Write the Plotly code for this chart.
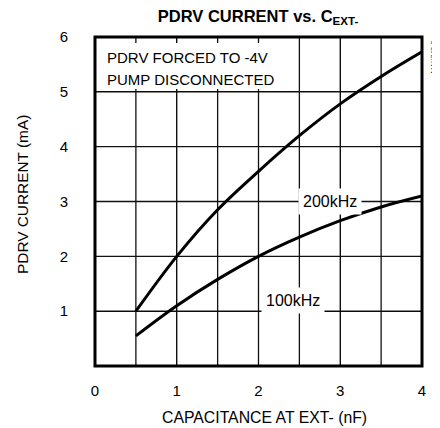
import plotly.graph_objects as go

cap_nf = [0.5, 1.0, 1.5, 2.0, 2.5, 3.0, 3.5, 4.0]
i_200k = [1.0, 2.0, 2.85, 3.55, 4.2, 4.78, 5.28, 5.73]
i_100k = [0.55, 1.1, 1.58, 2.0, 2.35, 2.65, 2.9, 3.1]

x_tickvals = [0, 1, 2, 3, 4]
x_ticktext = ["0", "1", "2", "3", "4"]
y_tickvals = [1, 2, 3, 4, 5, 6]
y_ticktext = ["1", "2", "3", "4", "5", "6"]
x_grid = [0.5, 1.0, 1.5, 2.0, 2.5, 3.0, 3.5]
y_grid = [1, 2, 3, 4, 5]
X_RANGE = [0, 4]
Y_RANGE = [0, 6]

FONT = "Liberation Sans, Arial, sans-serif"

# page body has an 8px default margin; figure is sized so the plot lands at the reference pixels
W, H = 432, 420

# grid lines drawn as a line trace through the axes' own scales
gx, gy = [], []
for v in x_grid:
    gx += [v, v, None]
    gy += [Y_RANGE[0], Y_RANGE[1], None]
for v in y_grid:
    gx += [X_RANGE[0], X_RANGE[1], None]
    gy += [v, v, None]

fig = go.Figure()
fig.add_trace(go.Scatter(x=gx, y=gy, mode="lines", line=dict(color="#111111", width=1.3),
                         showlegend=False, hoverinfo="skip", cliponaxis=True))
fig.add_trace(go.Scatter(x=cap_nf, y=i_200k, mode="lines", line=dict(color="black", width=3, shape="spline"),
                         showlegend=False, hoverinfo="skip"))
fig.add_trace(go.Scatter(x=cap_nf, y=i_100k, mode="lines", line=dict(color="black", width=3, shape="spline"),
                         showlegend=False, hoverinfo="skip"))

fig.update_layout(
    width=W, height=H,
    margin=dict(l=87, r=18, t=29, b=62, autoexpand=False),
    paper_bgcolor="white", plot_bgcolor="white",
    font=dict(family=FONT, color="black", size=12),
    hovermode=False,
    title=dict(text="<b>PDRV CURRENT vs. C<sub>EXT-</sub></b>", x=(250 / W), xanchor="center",
               y=1 - 8 / H, yanchor="middle", font=dict(size=16.5, family=FONT)),
    xaxis=dict(range=X_RANGE, tickvals=x_tickvals, ticktext=x_ticktext, showgrid=True,
               gridcolor="black", gridwidth=1,
               zeroline=False, showline=False, ticks="",
               ticklabelstandoff=14, tickfont=dict(size=15), automargin=False),
    yaxis=dict(range=Y_RANGE, tickvals=y_tickvals, ticktext=y_ticktext, showgrid=True,
               gridcolor="black", gridwidth=1,
               zeroline=False, showline=False, ticks="",
               ticklabelstandoff=26, tickfont=dict(size=15), automargin=False),
)

fig.add_shape(type="rect", xref="x", yref="y", x0=0.02, x1=2.45, y0=5.05, y1=5.89,
              fillcolor="white", line=dict(width=0), layer="above")
fig.add_shape(type="rect", xref="paper", yref="paper", x0=0, x1=1, y0=0, y1=1,
              line=dict(color="black", width=3), layer="above")

fig.add_annotation(x=0.5, y=0, xref="paper", yref="paper", xshift=6, yshift=-51.5,
                   text="CAPACITANCE AT EXT- (nF)", showarrow=False,
                   xanchor="center", yanchor="middle", font=dict(size=15.8))
fig.add_annotation(x=0, y=0.5, xref="paper", yref="paper", xshift=-73, yshift=6.5,
                   text="PDRV CURRENT (mA)", showarrow=False, textangle=-90,
                   xanchor="center", yanchor="middle", font=dict(size=15.4))

fig.add_annotation(x=0.12, y=5.62, xref="x", yref="y", text="PDRV FORCED TO -4V",
                   showarrow=False, xanchor="left", yanchor="middle", font=dict(size=15))
fig.add_annotation(x=0.12, y=5.23, xref="x", yref="y", text="PUMP DISCONNECTED",
                   showarrow=False, xanchor="left", yanchor="middle", font=dict(size=15))
fig.add_annotation(x=2.87, y=3.0, xref="x", yref="y", text="200kHz", showarrow=False,
                   bgcolor="white", borderpad=4, font=dict(size=16))
fig.add_annotation(x=2.42, y=1.2, xref="x", yref="y", text="100kHz", showarrow=False,
                   bgcolor="white", borderpad=4, font=dict(size=16))
fig.add_annotation(x=1.034, y=1 - 2 / 329, xref="paper", yref="paper", text="MAX742-3", showarrow=False,
                   textangle=-90, xanchor="center", yanchor="top", font=dict(size=7, color="#333"))

fig.write_html("out.html", config={"displayModeBar": False})
